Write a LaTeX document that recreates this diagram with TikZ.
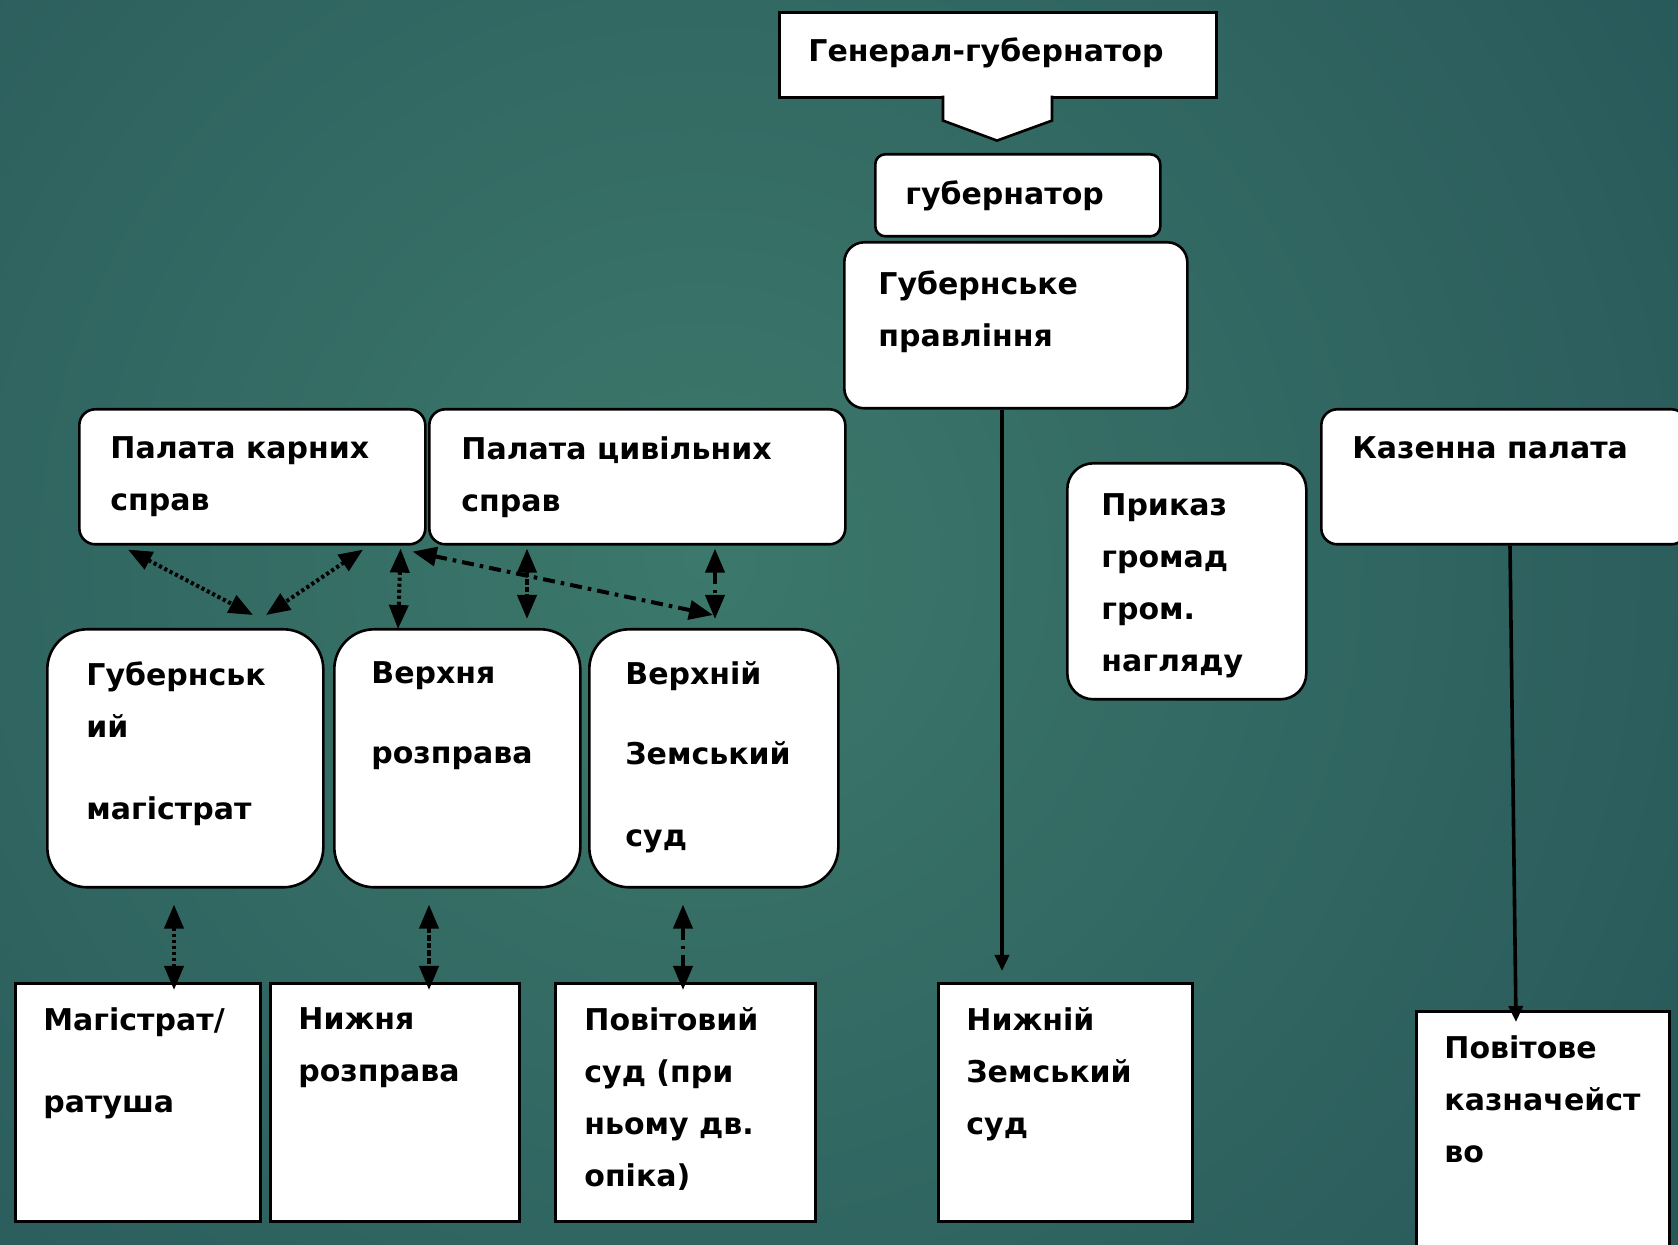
\documentclass[tikz,border=0pt]{standalone}
\usepackage{fontspec}
\setmainfont{DejaVu Sans}
\usetikzlibrary{arrows.meta,positioning,calc}
\definecolor{bgcenter}{HTML}{3C786B}
\definecolor{bgedge}{HTML}{1C4650}

\begin{document}
\begin{tikzpicture}[
  x=0.5pt, y=-0.5pt,
  font=\fontsize{15}{26}\selectfont\bfseries,
  sqbox/.style={draw=black, fill=white, line width=1.3pt, anchor=north west, inner sep=0pt},
  rbox/.style={sqbox, rounded corners=#1},
  rbox/.default=8pt,
  boxtext/.style={anchor=north west, align=left, inner sep=0pt},
  bigtip/.tip={Triangle[length=12pt,width=9.5pt]},
  dotlink/.style={arrows={bigtip-bigtip}, line width=2pt, dash pattern=on 1.6pt off 1.4pt},
  sqdotlink/.style={arrows={bigtip-bigtip}, line width=2pt, dash pattern=on 2.8pt off 1pt},
  dashdotlink/.style={arrows={bigtip-bigtip}, line width=2pt, dash pattern=on 6pt off 3pt on 1.8pt off 3pt},
  solidlink/.style={-{Triangle[length=8pt,width=7pt]}, line width=1.8pt}
]

  % Background
  \useasboundingbox (0,0) rectangle (1678,1245);
  \begin{scope}
    \clip (0,0) rectangle (1678,1245);
    \shade[inner color=bgcenter, outer color=bgedge] (700,560) circle (920pt);
  \end{scope}

  % Top: Governor-General callout and governor
  \node[sqbox, minimum width=218.5pt, minimum height=42.5pt, anchor=north west] (gg) at (778,11) {};
  \draw[fill=white, line width=1.3pt] ($(gg.south west)+(165,-3)$) -- ($(gg.south west)+(165,22)$)
    -- ($(gg.south west)+(219,42)$) -- ($(gg.south west)+(274,22)$) -- ($(gg.south west)+(274,-3)$);
  \node[boxtext, below right=13pt and 15pt of gg.north west] (gg-t) {Генерал-губернатор};

  \node[rbox=5pt, minimum width=142.5pt, minimum height=41pt] (gub) at (874,153) {};
  \node[boxtext, below right=13.5pt and 15.5pt of gub.north west] (gub-t) {губернатор};

  \node[rbox=10pt, minimum width=171.5pt, minimum height=83pt] (prav) at (843,241) {};
  \node[boxtext, below right=14.5pt and 17.5pt of prav.north west] (prav-t) {Губернське\\правління};

  % Row 1: chambers
  \node[rbox, minimum width=173pt, minimum height=67.5pt] (kar) at (78,408) {};
  \node[boxtext, below right=14pt and 16pt of kar.north west] (kar-t) {Палата карних\\справ};

  \node[rbox, minimum width=208pt, minimum height=67.5pt] (civ) at (428,408) {};
  \node[boxtext, below right=14pt and 16.5pt of civ.north west] (civ-t) {Палата цивільних\\справ};

  \node[rbox, minimum width=183pt, minimum height=67.5pt] (kaz) at (1320,408) {};
  \node[boxtext, below right=14pt and 16pt of kaz.north west] (kaz-t) {Казенна палата};

  \node[rbox=13pt, minimum width=119.5pt, minimum height=118pt] (prik) at (1066,462) {};
  \node[boxtext, below right=15.5pt and 17.5pt of prik.north west] (prik-t) {Приказ\\громад\\гром.\\нагляду};

  % Row 2: gubernia courts
  \node[rbox=20pt, minimum width=138pt, minimum height=129pt] (mag) at (46,628) {};
  \node[boxtext, below right=16.5pt and 20pt of mag.north west] (mag-t) {Губернськ\\ий\\[15pt]магістрат};

  \node[rbox=20pt, minimum width=123pt, minimum height=129pt] (vrozp) at (333,628) {};
  \node[boxtext, below right=16.5pt and 19pt of vrozp.north west] (vrozp-t) {Верхня\\[14pt]розправа};

  \node[rbox=20pt, minimum width=124.5pt, minimum height=129pt] (vzem) at (588,628) {};
  \node[boxtext, below right=16.5pt and 18.5pt of vzem.north west] (vzem-t) {Верхній\\[14pt]Земський\\[15pt]суд};

  % Row 3: county level
  \node[sqbox, minimum width=122.5pt, minimum height=119pt] (ratusha) at (14,982) {};
  \node[boxtext, below right=12.5pt and 14.5pt of ratusha.north west] (ratusha-t) {Магістрат/\\[15pt]ратуша};

  \node[sqbox, minimum width=124.5pt, minimum height=119pt] (nroz) at (269,982) {};
  \node[boxtext, below right=12.5pt and 14.5pt of nroz.north west] (nroz-t) {Нижня\\розправа};

  \node[sqbox, minimum width=130pt, minimum height=119pt] (povsud) at (554,982) {};
  \node[boxtext, below right=12.5pt and 15pt of povsud.north west] (povsud-t) {Повітовий\\суд (при\\ньому дв.\\опіка)};

  \node[sqbox, minimum width=127pt, minimum height=119pt] (nzem) at (937,982) {};
  \node[boxtext, below right=12.5pt and 14.5pt of nzem.north west] (nzem-t) {Нижній\\Земський\\суд};

  \node[sqbox, minimum width=126.5pt, minimum height=125pt] (kazn) at (1415,1010) {};
  \node[boxtext, below right=12.5pt and 14.5pt of kazn.north west] (kazn-t) {Повітове\\казначейст\\во};

  % Links between chambers and courts
  \draw[dotlink] ($(kar.south west)+(50,4)$) -- ($(mag.north west)+(207,-13)$);
  \draw[dotlink] ($(kar.south west)+(285,4)$) -- ($(mag.north west)+(220,-13)$);
  \draw[dotlink] ($(kar.south east)+(-26,3)$) -- ($(vrozp.north west)+(65,1)$);
  \draw[sqdotlink] ($(civ.south west)+(99,3)$) -- ($(vrozp.north west)+(194,-9)$);
  \draw[dashdotlink] ($(kar.south east)+(-14,6)$) -- ($(vzem.north west)+(125,-13)$);
  \draw[dashdotlink] ($(civ.south west)+(287,3)$) -- ($(vzem.north west)+(127,-9)$);

  % Links down to county level
  \draw[dotlink] ($(mag.south west)+(128,16)$) -- ($(ratusha.north west)+(160,8)$);
  \draw[sqdotlink] ($(vrozp.south west)+(96,16)$) -- ($(nroz.north west)+(160,8)$);
  \draw[dashdotlink] ($(vzem.south west)+(95,16)$) -- ($(povsud.north west)+(129,8)$);

  \draw[solidlink] ($(prav.south west)+(159,0)$) -- ($(nzem.north west)+(65,-11)$);
  \draw[solidlink] ($(kaz.south west)+(190,0)$) -- ($(kazn.north west)+(101,12)$);

\end{tikzpicture}
\end{document}
